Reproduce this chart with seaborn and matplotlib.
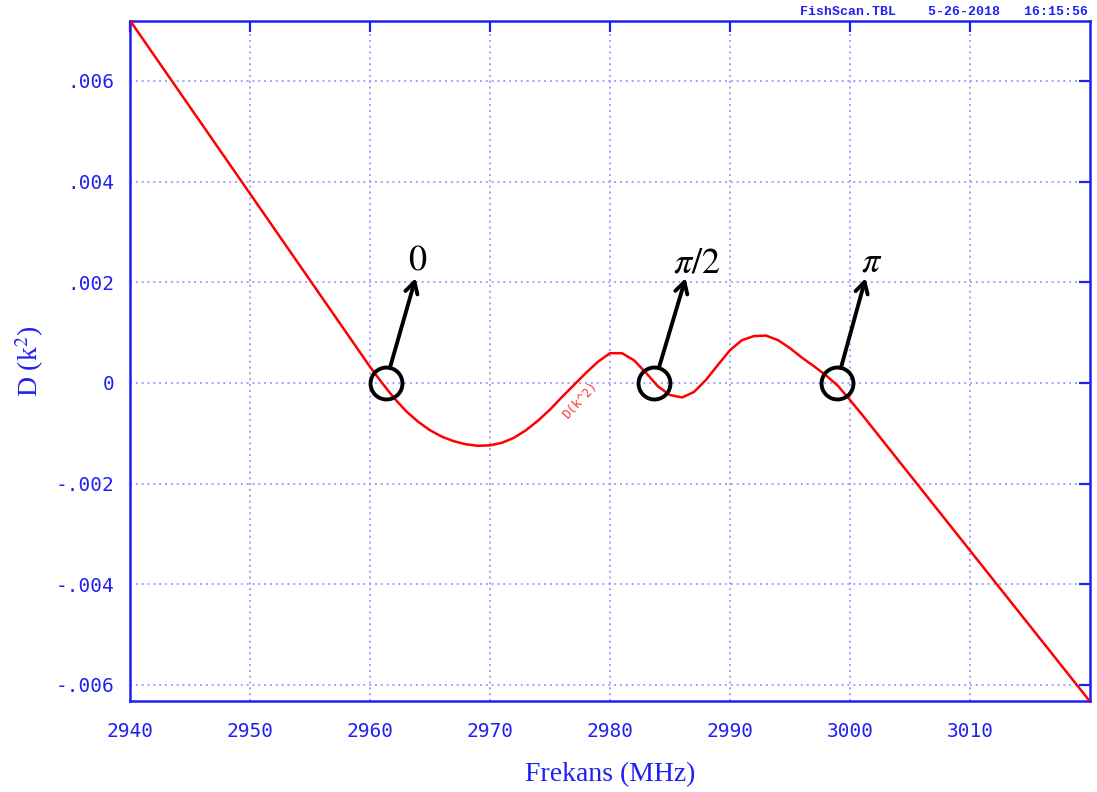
import matplotlib
matplotlib.use("Agg")
import matplotlib.pyplot as plt
import seaborn as sns
import pandas as pd

# Dispersion curve D(k^2) versus frequency (MHz)
freq = list(range(2940, 3021))
d_k2 = [
    0.007200, 0.006856, 0.006512, 0.006168, 0.005824, 0.005480, 0.005136, 0.004792,
    0.004448, 0.004104, 0.003760, 0.003416, 0.003072, 0.002728, 0.002384, 0.002040,
    0.001696, 0.001352, 0.001008, 0.000664, 0.000320, 0.000000, -0.000300, -0.000560,
    -0.000770, -0.000940, -0.001070, -0.001160, -0.001220, -0.001250, -0.001240, -0.001190,
    -0.001090, -0.000940, -0.000750, -0.000530, -0.000280, -0.000040, 0.000200, 0.000420,
    0.000590, 0.000590, 0.000450, 0.000200, -0.000070, -0.000240, -0.000290, -0.000180,
    0.000060, 0.000360, 0.000650, 0.000850, 0.000930, 0.000940, 0.000850, 0.000690,
    0.000500, 0.000330, 0.000150, -0.000060, -0.000340, -0.000630, -0.000930, -0.001230,
    -0.001530, -0.001830, -0.002130, -0.002430, -0.002730, -0.003030, -0.003330, -0.003630,
    -0.003930, -0.004230, -0.004530, -0.004830, -0.005130, -0.005430, -0.005730, -0.006030,
    -0.006330,
]

x_ticks = [2940, 2950, 2960, 2970, 2980, 2990, 3000, 3010]
x_tick_labels = ["2940", "2950", "2960", "2970", "2980", "2990", "3000", "3010"]
y_ticks = [0.006, 0.004, 0.002, 0.0, -0.002, -0.004, -0.006]
y_tick_labels = [".006", ".004", ".002", "0", "-.002", "-.004", "-.006"]

# Zero crossings marked as phase points
mode_freq = [2961.3, 2983.7, 2998.9]
mode_labels = ["$0$", r"$\pi/2$", r"$\pi$"]
arrow_tips = [(2963.8, 0.00208), (2986.3, 0.00208), (3001.3, 0.00208)]
label_pos = [(2964.0, 0.00246), (2987.2, 0.00240), (3001.8, 0.00242)]

sns.set_style("white")
plt.rcParams["mathtext.fontset"] = "stix"

BLUE = "#2020f0"
GRID = "#a0a0ff"

fig = plt.figure(figsize=(10.97, 7.92), dpi=100)
ax = fig.add_axes([130 / 1097, 1 - 701 / 792, (1090 - 130) / 1097, (701 - 21) / 792])

df = pd.DataFrame({"freq": freq, "D": d_k2})
sns.lineplot(data=df, x="freq", y="D", ax=ax, color="red", linewidth=1.8,
             zorder=3)

ax.set_xlim(2940, 3020)
ax.set_ylim(-0.00632, 0.00719)

ax.set_xticks(x_ticks)
ax.set_xticklabels(x_tick_labels)
ax.set_yticks(y_ticks)
ax.set_yticklabels(y_tick_labels)

ax.grid(True, color=GRID, linestyle=(0, (1, 2)), linewidth=1.4)
for s in ax.spines.values():
    s.set_color(BLUE)
    s.set_linewidth(1.8)
    s.set_visible(True)

ax.tick_params(axis="both", which="major", direction="in", length=8, width=1.6,
               color=BLUE, labelcolor=BLUE, top=True, right=True,
               labelsize=14, pad=15)
ax.tick_params(axis="y", pad=11)
for lab in ax.get_xticklabels() + ax.get_yticklabels():
    lab.set_family("DejaVu Sans Mono")

ax.set_xlabel("Frekans (MHz)", family="Liberation Serif", fontsize=20,
              color=BLUE, labelpad=15)
ax.set_ylabel(r"D (k$^2$)", family="Liberation Serif", fontsize=20,
              color=BLUE)
ax.yaxis.label.set_verticalalignment("center")
ax.yaxis.set_label_coords(-100 / 960, 0.5)

# Curve name written along the line
ax.text(2977.5, -0.00034, "D(k^2)", color="red", fontsize=9,
        family="DejaVu Sans Mono", rotation=47, ha="center", va="center",
        alpha=0.8)

# Header stamp
fig.text(1088 / 1097, 1 - 12 / 792, "FishScan.TBL    5-26-2018   16:15:56",
         ha="right", va="center", color=BLUE, fontsize=9.5,
         family="Liberation Mono", fontweight="bold")

# Circles on the zero crossings, arrows and phase labels
for fx, tip, pos, lab in zip(mode_freq, arrow_tips, label_pos, mode_labels):
    ax.plot([fx], [0.0], marker="o", markersize=23, markerfacecolor="none",
            markeredgecolor="black", markeredgewidth=2.8, zorder=5)
    ax.annotate("", xy=tip, xytext=(fx, 0.0),
                arrowprops=dict(arrowstyle="->,head_length=0.8,head_width=0.45",
                                color="black", lw=2.8, shrinkA=11, shrinkB=0),
                zorder=5)
    ax.text(pos[0], pos[1], lab, fontsize=26, color="black",
            ha="center", va="center", zorder=6)

fig.savefig("out.png", dpi=100)
